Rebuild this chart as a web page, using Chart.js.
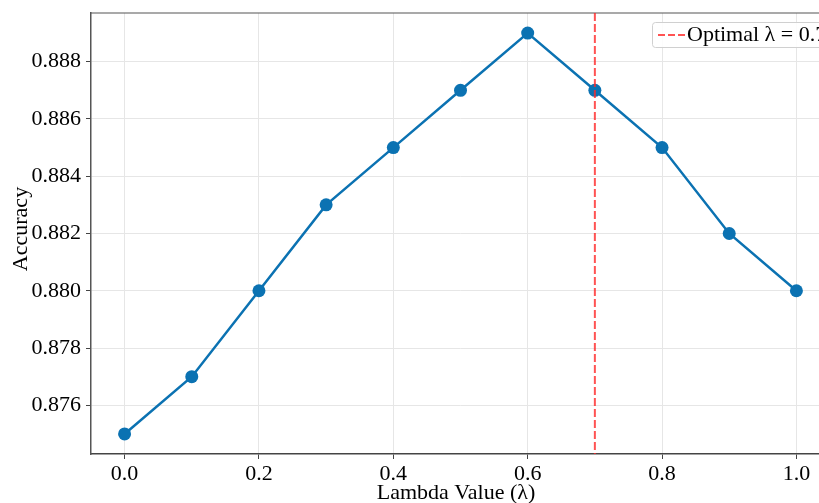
<!DOCTYPE html>
<html>
<head>
<meta charset="utf-8">
<script src="https://cdn.jsdelivr.net/npm/chart.js@4.4.1/dist/chart.umd.min.js"></script>
<style>
  html, body { margin: 0; padding: 0; background: #fff; overflow: hidden; }
  #wrap { width: 840px; height: 503px; }
</style>
</head>
<body>
<div id="wrap"><canvas id="accChart" width="840" height="503"></canvas></div>
<script>
const lambdas = [0.0, 0.1, 0.2, 0.3, 0.4, 0.5, 0.6, 0.7, 0.8, 0.9, 1.0];
const accuracy = [0.875, 0.877, 0.880, 0.883, 0.885, 0.887, 0.889, 0.887, 0.885, 0.882, 0.880];
const xTicks = [0.0, 0.2, 0.4, 0.6, 0.8, 1.0];
const yTicks = [0.876, 0.878, 0.880, 0.882, 0.884, 0.886, 0.888];
const optimalLambda = 0.7;

const serif = 'Liberation Serif, Times New Roman, serif';
const blue = '#0b72b2';
const red = 'rgba(255, 40, 40, 0.8)';

const extras = {
  id: 'extras',
  afterDraw(chart) {
    const { ctx, chartArea: a, scales: { x } } = chart;
    ctx.save();
    // top spine
    ctx.strokeStyle = '#555';
    ctx.lineWidth = 1.2;
    ctx.beginPath();
    ctx.moveTo(a.left, a.top);
    ctx.lineTo(a.right, a.top);
    ctx.stroke();

    // optimal lambda line
    const px = x.getPixelForValue(optimalLambda);
    ctx.strokeStyle = red;
    ctx.lineWidth = 2;
    ctx.setLineDash([8, 3]);
    ctx.beginPath();
    ctx.moveTo(px, a.top);
    ctx.lineTo(px, a.bottom);
    ctx.stroke();

    // legend
    ctx.setLineDash([]);
    ctx.fillStyle = 'rgba(255,255,255,0.85)';
    ctx.strokeStyle = '#d0d0d0';
    ctx.lineWidth = 1;
    ctx.beginPath();
    ctx.roundRect(652.5, 22.5, 200, 25, 3);
    ctx.fill();
    ctx.stroke();
    ctx.strokeStyle = red;
    ctx.lineWidth = 2;
    ctx.setLineDash([7, 3]);
    ctx.beginPath();
    ctx.moveTo(658, 35);
    ctx.lineTo(686, 35);
    ctx.stroke();
    ctx.setLineDash([]);
    ctx.fillStyle = '#000';
    ctx.font = '22px ' + serif;
    ctx.textBaseline = 'middle';
    ctx.textAlign = 'left';
    ctx.fillText('Optimal \u03bb = ' + optimalLambda, 687, 35);

    // axis titles
    ctx.textAlign = 'center';
    ctx.fillText('Lambda Value (\u03bb)', 456, 493);
    ctx.translate(21, 229);
    ctx.rotate(-Math.PI / 2);
    ctx.fillText('Accuracy', 0, 0);
    ctx.restore();
  }
};

new Chart(document.getElementById('accChart'), {
  type: 'line',
  data: {
    labels: lambdas,
    datasets: [{
      label: 'Accuracy',
      data: lambdas.map((l, i) => ({ x: l, y: accuracy[i] })),
      borderColor: blue,
      backgroundColor: blue,
      borderWidth: 2.5,
      pointRadius: 6.5,
      pointHoverRadius: 6.5,
      pointBorderWidth: 0,
      tension: 0
    }]
  },
  options: {
    responsive: false,
    animation: false,
    layout: { padding: { left: 0, top: 13, right: 10, bottom: 0 } },
    plugins: { legend: { display: false }, tooltip: { enabled: false } },
    scales: {
      x: {
        type: 'linear',
        min: -0.05,
        max: 1.05,
        afterBuildTicks: axis => { axis.ticks = xTicks.map(v => ({ value: v })); },
        afterFit: axis => { axis.height = 49; axis.paddingLeft = 0; axis.paddingRight = 0; },
        grid: { color: '#e6e6e6', tickColor: '#444', tickLength: 5 },
        border: { color: '#444', width: 1.5 },
        ticks: { font: { family: serif, size: 22 }, color: '#000', padding: 2, maxRotation: 0,
          callback: v => Number(v).toFixed(1) }
      },
      y: {
        min: 0.8743,
        max: 0.8897,
        afterBuildTicks: axis => { axis.ticks = yTicks.map(v => ({ value: v })); },
        afterFit: axis => { axis.width = 91; axis.paddingTop = 0; axis.paddingBottom = 0; },
        grid: { color: '#e6e6e6', tickColor: '#444', tickLength: 5 },
        border: { color: '#555', width: 1.5 },
        ticks: { font: { family: serif, size: 22 }, color: '#000', padding: 5,
          callback: v => Number(v).toFixed(3) }
      }
    }
  },
  plugins: [extras]
});
</script>
</body>
</html>
